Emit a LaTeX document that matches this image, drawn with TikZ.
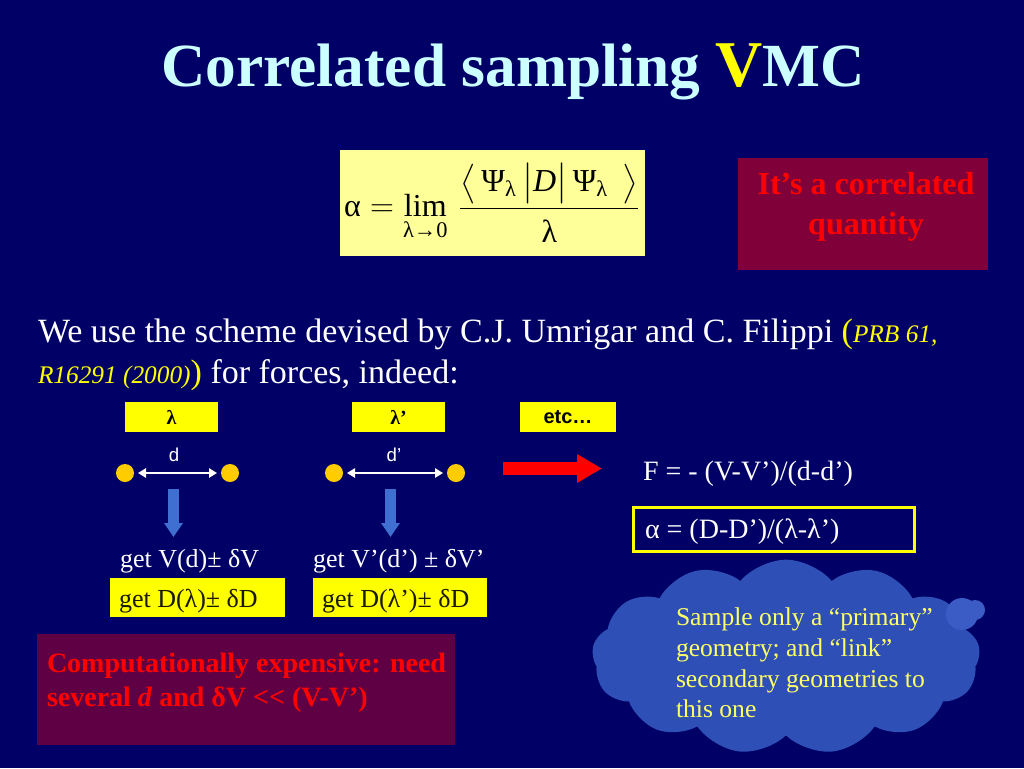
\documentclass[tikz,border=0pt]{standalone}
\usepackage{amsmath}
\usepackage{fontspec}
\setmainfont{Liberation Serif}
\newfontfamily\arialfont{Liberation Sans}
\usetikzlibrary{shapes.symbols,arrows.meta}
\definecolor{bg}{HTML}{000066}
\definecolor{titlecol}{HTML}{CCFFFF}
\definecolor{formulacol}{HTML}{FFFF99}
\definecolor{ylw}{HTML}{FFFF00}
\definecolor{dotcol}{HTML}{FFCC00}
\definecolor{bluearr}{HTML}{3F6FD0}
\definecolor{redboxA}{HTML}{80003A}
\definecolor{redboxB}{HTML}{5F0045}
\definecolor{cloudcol}{HTML}{2E4FB5}
\definecolor{cloudlight}{HTML}{3A5CC4}
\definecolor{cloudtext}{HTML}{FFFF66}
\definecolor{redtext}{HTML}{FF0000}
\definecolor{darktext}{HTML}{1A1A00}
\begin{document}
\begin{tikzpicture}[x=0.75pt,y=-0.75pt,
  every node/.style={inner sep=0pt,outer sep=0pt},
  labelbox/.style={fill=ylw,minimum height=22.5pt,font=\bfseries\fontsize{15}{18}\selectfont,text=black},
  dotnode/.style={circle,fill=dotcol,minimum size=13.5pt},
  dimarrow/.style={white,line width=1.3pt,{Triangle[length=6pt,width=7pt]}-{Triangle[length=6pt,width=7pt]},shorten <=3pt,shorten >=3pt},
  downarrow/.style={bluearr,line width=8.25pt,-{Triangle[length=10.5pt,width=13.5pt]}},
  whitetext/.style={text=white,font=\fontsize{19.5}{24}\selectfont,anchor=base west},
  dbox/.style={fill=ylw,minimum width=131pt,minimum height=29.25pt},
  redbox/.style={text=redtext,font=\bfseries}
]
\fill[bg] (0,0) rectangle (1024,768);
\useasboundingbox (0,0) rectangle (1024,768);

% title
\node[anchor=base,text=titlecol,font=\bfseries\fontsize{46}{50}\selectfont] (title) at (513,86)
  {Correlated sampling \textcolor{ylw}{\fontsize{49}{50}\selectfont V}MC};

% formula
\node[fill=formulacol,minimum width=228.75pt,minimum height=79.5pt] (fbox) at (492.5,203) {};
\node[font=\fontsize{24}{28}\selectfont] (formula) at (492,203)
  {$\displaystyle \text{α} = \mathop{\text{lim}}\limits_{\text{λ→0}}\,
   \frac{\bigl\langle\, \text{Ψ}_{\text{λ}}\, \bigr| \textit{D} \bigr|\, \text{Ψ}_{\text{λ}}\;\, \bigr\rangle\rule[-4pt]{0pt}{4pt}}{\rule{0pt}{22pt}\text{λ}}$};

% correlated quantity box
\node[fill=redboxA,minimum width=187.5pt,minimum height=84pt] (corrbox) at (863,214) {};
\node[redbox,align=center,font=\bfseries\fontsize{24}{30.5}\selectfont] (corrtext) at (866,207)
  {It’s a correlated\\quantity};

% body text
\node[anchor=base west,text=white,font=\fontsize{25.5}{30}\selectfont] (line1) at (38,342)
  {We use the scheme devised by C.J. Umrigar and C. Filippi \textcolor{ylw}{(\fontsize{19}{22}\selectfont\itshape PRB 61,}};
\node[anchor=base west,text=white,font=\fontsize{25.5}{30}\selectfont] (line2) at (38,383)
  {\textcolor{ylw}{{\fontsize{19}{22}\selectfont\itshape R16291 (2000)})} for forces, indeed:};

% label boxes
\node[labelbox,minimum width=69.75pt] (lam1) at (171.5,417) {λ};
\node[labelbox,minimum width=69.75pt] (lam2) at (398.5,417) {λ’};
\node[labelbox,minimum width=72pt,font=\arialfont\bfseries\fontsize{15}{18}\selectfont] (etc) at (568,417) {etc…};

% dots and distances
\node[dotnode] (p1) at (125,473) {};
\node[dotnode] (p2) at (230,473) {};
\node[dotnode] (p3) at (334,473) {};
\node[dotnode] (p4) at (456,473) {};
\draw[dimarrow] (p1) -- (p2);
\draw[dimarrow] (p3) -- (p4);
\node[text=white,font=\arialfont\fontsize{14}{16}\selectfont] (dlab1) at (174,455) {d};
\node[text=white,font=\arialfont\fontsize{14}{16}\selectfont] (dlab2) at (394,455) {d’};

% down arrows
\coordinate (b1) at (173.5,489);
\coordinate (b2) at (390.5,489);
\node[whitetext] (getV1) at (120,567) {get V(d)± δV};
\node[whitetext] (getV2) at (313,567) {get V’(d’) ± δV’};
\coordinate (b1e) at (173.5,537);
\coordinate (b2e) at (390.5,537);
\draw[downarrow] (b1) -- (b1e);
\draw[downarrow] (b2) -- (b2e);

% D boxes
\node[dbox] (dbox1) at (197.5,597.5) {};
\node[dbox] (dbox2) at (400,597.5) {};
\node[whitetext,text=darktext] (getD1) at (119,607) {get D(λ)± δD};
\node[whitetext,text=darktext] (getD2) at (322,607) {get D(λ’)± δD};

% red arrow
\coordinate (ra1) at (503,468.5);
\coordinate (ra2) at (602,468.5);
\draw[redtext,line width=9.75pt,-{Triangle[length=18.75pt,width=20.25pt]}] (ra1) -- (ra2);

% results
\node[whitetext,font=\fontsize{21}{24}\selectfont] (Ftext) at (643,480) {F = - (V-V’)/(d-d’)};
\node[draw=ylw,line width=2.25pt,fill=bg,minimum width=211pt,minimum height=33pt] (abox) at (774,529) {};
\node[whitetext,font=\fontsize{21}{24}\selectfont] (atext) at (645,538) {α = (D-D’)/(λ-λ’)};

% cloud
\node[cloud,cloud puffs=13,cloud puff arc=100,aspect=2,fill=cloudcol,minimum width=291pt,minimum height=146pt] (cloud) at (786,657) {};
\node[circle,fill=cloudlight,minimum size=24pt] (t1) at (962,614) {};
\node[circle,fill=cloudlight,minimum size=15pt] (t2) at (975,610) {};
\node[anchor=north west,align=left,text=cloudtext,font=\fontsize{19.2}{23}\selectfont] (cloudtxt) at (676,608)
  {Sample only a “primary”\\geometry; and “link”\\secondary geometries to\\this one};

% bottom left box
\node[fill=redboxB,minimum width=313.5pt,minimum height=83.25pt] (expbox) at (246,689.5) {};
\node[anchor=north west,align=left,redbox,font=\bfseries\fontsize{21}{25.5}\selectfont] (exptext) at (47,653)
  {Computationally expensive: need\\several \textit{d} and δV <{}< (V-V’)};
\end{tikzpicture}
\end{document}
